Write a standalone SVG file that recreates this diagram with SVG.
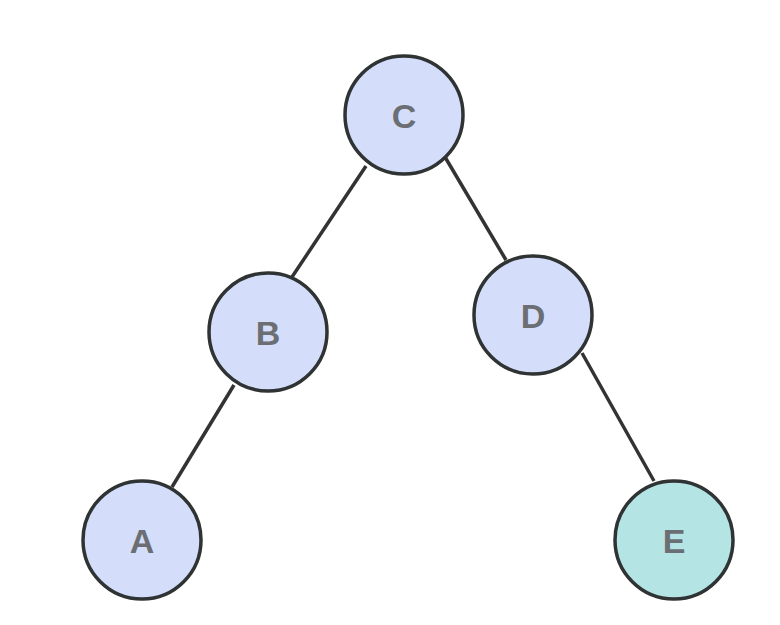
<svg xmlns="http://www.w3.org/2000/svg" width="780" height="625" viewBox="0 0 780 625">
<style>
.n{fill:#d4defb;stroke:#2f3333;stroke-width:3.5}
.e{fill:#b4e4e4}
.t{font-family:"Liberation Sans",Arial,sans-serif;font-weight:bold;font-size:34px;fill:#6b6e72;text-anchor:middle;dominant-baseline:central}
.c{stroke:#333;stroke-width:3.5;fill:none}
</style>
<rect width="780" height="625" fill="#fff"/>
<g id="connectors">
<line class="c" x1="366" y1="166" x2="292" y2="277"/>
<line class="c" x1="445" y1="157" x2="506" y2="260"/>
<line class="c" x1="234" y1="385" x2="172" y2="487"/>
<line class="c" x1="582" y1="353" x2="654" y2="481"/>
</g>
<g id="C"><circle class="n" cx="404" cy="115" r="59"/><text class="t" x="404" y="116">C</text></g>
<g id="B"><circle class="n" cx="268" cy="332" r="59"/><text class="t" x="268" y="333">B</text></g>
<g id="D"><circle class="n" cx="533" cy="315" r="59"/><text class="t" x="533" y="316">D</text></g>
<g id="A"><circle class="n" cx="142" cy="540" r="59"/><text class="t" x="142" y="541">A</text></g>
<g id="E"><circle class="n e" cx="674" cy="540" r="59"/><text class="t" x="674" y="541">E</text></g>
</svg>
